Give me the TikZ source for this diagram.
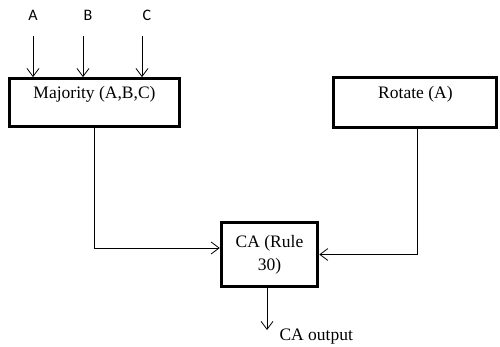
\documentclass[tikz,border=0pt]{standalone}
\usepackage{fontspec}
\setmainfont{Liberation Serif}
\newfontfamily\inputfont{Carlito}
\usetikzlibrary{arrows.meta, positioning}

\begin{document}
\begin{tikzpicture}[
    x=1pt, y=-1pt, font=\fontsize{17.5}{23}\selectfont,
    blk/.style={draw, line width=3pt, inner sep=0pt, align=center},
    inp/.style={font=\inputfont\fontsize{16}{18}\selectfont, anchor=base},
    wire/.style={line width=0.8pt},
    >={Straight Barb[length=8pt, width=12pt]}]
\useasboundingbox (0,0) rectangle (500,347);
\node[blk, minimum width=170pt, text height=20.3pt, text depth=27.2pt] (maj) at (94.5,102.4) {Majority (A,B,C)};
\node[blk, minimum width=163pt, text height=21pt, text depth=29pt] (rot) at (415.4,103) {Rotate (A)};
\node[blk, minimum width=96.5pt, minimum height=63pt] (ca) at (269.5,254.5) {CA (Rule\\30)};
% inputs
\foreach \l/\ax/\lx in {A/33/33, B/83/88, C/142/147} {
  \node[inp] (in\l) at (\lx,21) {\l};
  \coordinate (t\l) at (\ax,36);
  \draw[wire,->] (t\l) -- (t\l |- maj.north);
}
\draw[wire,->] (maj.south) |- ([yshift=6.5pt]ca.west);
\draw[wire,->] ([xshift=2pt]rot.south) |- (ca.east);
\coordinate (caend) at (267,330);
\node[anchor=base west] (out) at (276,340) {CA output};
\draw[wire,->] (ca.south -| caend) -- (caend);
\end{tikzpicture}
\end{document}
